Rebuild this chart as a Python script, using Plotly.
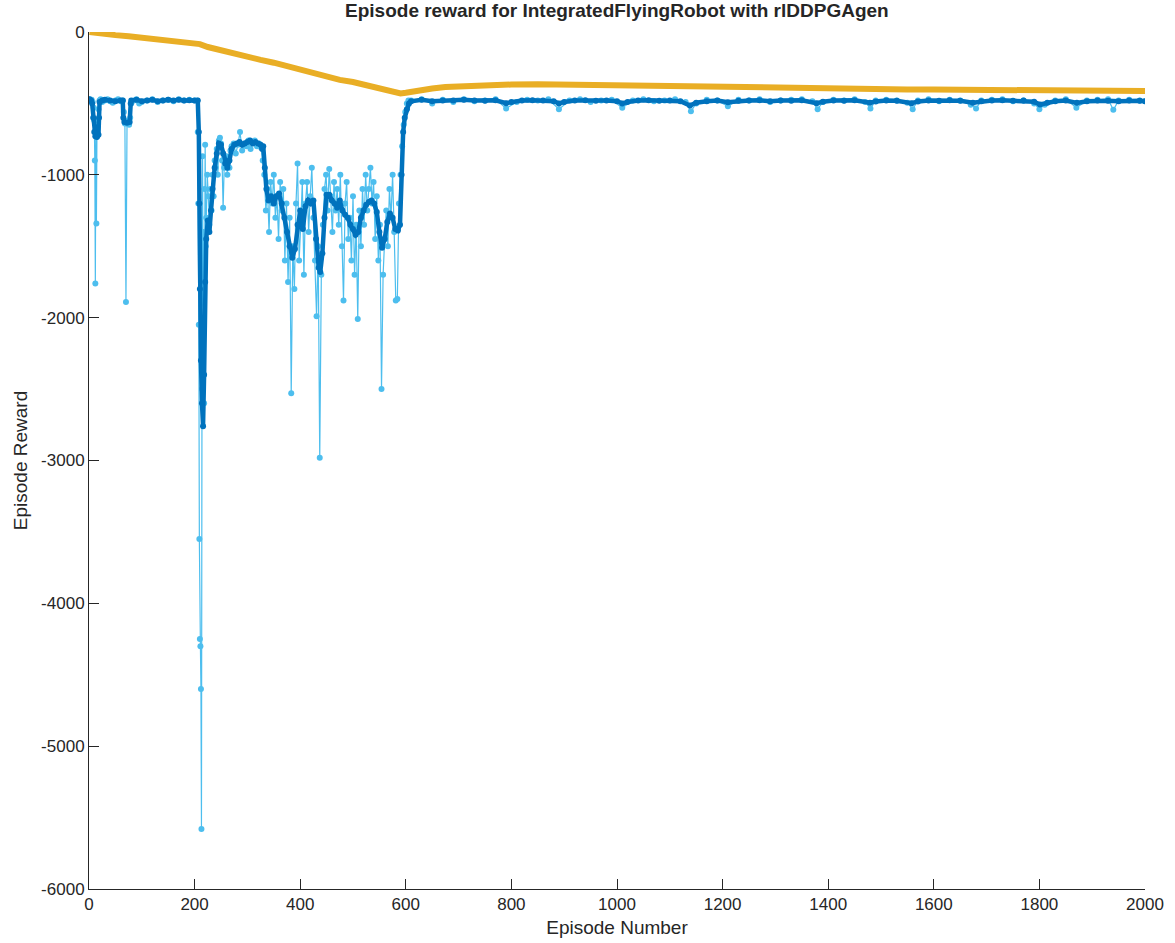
import plotly.graph_objects as go

# ---------------- data ----------------
reward_ep = [1, 3, 5, 7, 9, 10, 11, 12, 13, 14, 15, 16, 17, 18, 20, 22, 25, 30, 35, 40, 45, 50, 55, 60, 64, 66, 68, 70, 72, 74, 76, 78, 80, 85, 90, 95, 100, 110, 120, 130, 140, 150, 160, 170, 180, 190, 200, 205,
             206, 207, 208, 209, 210, 211, 212, 213, 214, 215, 216, 217, 218, 219, 220, 221, 222, 224, 226, 228, 230, 232, 234, 236, 238, 240, 242, 244, 246, 248, 250, 252, 254, 256, 258, 260, 262, 264, 266, 268, 270, 274, 278, 282, 286, 290, 294, 298, 302, 306, 310, 314, 318, 322, 326, 329,
             332, 335, 338, 341, 344, 347, 350, 353, 356, 359, 362, 365, 368, 371, 374, 377, 380, 383, 386, 389, 392, 395, 398, 401, 404, 407, 410, 413, 416, 419, 422, 425, 428, 431, 434, 437, 440, 443, 446, 449, 452, 455, 458, 461, 464, 467, 470, 473, 476, 479, 482, 485, 488, 491, 494, 497, 500, 503, 506, 509, 512, 515, 518, 521, 524, 527, 530, 533, 536, 539, 542, 545, 548, 551, 554, 557, 560, 563, 566, 569, 572, 575, 578, 581, 584, 587, 590, 593, 596, 599, 602, 605,
             610, 630, 650, 670, 690, 710, 730, 750, 770, 790, 810, 830, 850, 870, 890, 910, 930, 950, 970, 990, 1010, 1030, 1050, 1070, 1090, 1110, 1130, 1140, 1150, 1170, 1190, 1210, 1230, 1250, 1270, 1290, 1310, 1330, 1350, 1370, 1380, 1390, 1410, 1430, 1450, 1470, 1480, 1490, 1510, 1530, 1550, 1560, 1570, 1590, 1610, 1630, 1650, 1670, 1680, 1690, 1710, 1730, 1750, 1770, 1790, 1800, 1810, 1830, 1850, 1870, 1890, 1910, 1930, 1940, 1950, 1970, 1990, 2000]
reward_val = [-470, -480, -475, -490, -530, -620, -900, -1760, -700, -1340, -730, -660, -620, -540, -480, -470, -490, -480, -470, -485, -495, -480, -470, -485, -480, -560, -640, -1890, -640, -620, -650, -600, -500, -480, -470, -500, -490, -480, -470, -490, -480, -475, -485, -470, -480, -475, -480, -480,
              -700, -1200, -2050, -3550, -4250, -4300, -4600, -5580, -2500, -870, -1900, -1400, -2600, -1100, -790, -1500, -1300, -1000, -1150, -1350, -1100, -1250, -1000, -1150, -900, -950, -820, -1000, -760, -740, -780, -900, -1230, -950, -900, -870, -1000, -900, -950, -830, -800, -780, -850, -790, -700, -830, -780, -800, -760, -820, -770, -760, -800, -780, -810, -900,
              -1000, -1250, -1100, -1400, -1050, -1200, -1000, -1300, -1150, -1450, -1050, -1250, -1100, -1600, -1200, -1750, -1300, -2530, -1500, -1800, -1200, -920, -1600, -1350, -1050, -1700, -1200, -1050, -1400, -1150, -950, -1300, -1600, -1990, -1500, -2980, -1700, -1350, -1100, -1000, -1250, -960, -1150, -1400, -1050, -1250, -1100, -1350, -1000, -1500, -1880, -1200, -1050, -1450, -1300, -1600, -1150, -1700, -1350, -2010, -1250, -1500, -1100, -1350, -1000, -1250, -1100, -950, -1200, -1050, -1450, -1150, -1600, -1350, -2500, -1700, -1450, -1250, -1500, -1100, -1300, -1000, -1400, -1880, -1870, -1200, -1000, -800, -650, -560, -500, -480,
              -480, -470, -500, -475, -490, -470, -485, -480, -470, -535, -490, -475, -480, -470, -540, -480, -470, -490, -480, -475, -530, -480, -470, -485, -480, -470, -490, -555, -500, -475, -480, -520, -475, -480, -470, -490, -480, -475, -470, -485, -540, -490, -475, -480, -470, -490, -535, -480, -475, -480, -495, -540, -480, -470, -485, -475, -480, -510, -535, -480, -475, -470, -485, -480, -500, -540, -510, -480, -470, -530, -480, -475, -470, -545, -480, -475, -480, -485]

avg_ep = [1, 4, 6, 8, 10, 12, 15, 18, 19, 20, 25, 30, 40, 50, 60, 64, 65, 67, 72, 77, 79, 80, 90, 100, 110, 120, 130, 140, 150, 160, 170, 180, 190, 200, 206,
          208, 209, 210, 212, 214, 216, 218, 220, 222, 225, 228, 231, 234, 238, 242, 246, 250, 254, 258, 262, 266, 270, 275, 280, 285, 290, 295, 300, 305, 310, 315, 320, 325, 328,
          330, 333, 336, 340, 345, 350, 355, 360, 365, 370, 375, 380, 385, 390, 395, 400, 405, 410, 415, 420, 425, 430, 435, 438, 442, 446, 450, 455, 460, 465, 470, 475, 480, 485, 490, 495, 500, 505, 510, 515, 520, 525, 530, 535, 540, 545, 550, 555, 560, 565, 570, 575, 580, 585, 589, 592, 595, 598, 602, 606,
          610, 630, 650, 670, 690, 710, 730, 750, 770, 790, 800, 820, 840, 860, 880, 890, 900, 920, 940, 960, 980, 1000, 1010, 1020, 1040, 1060, 1080, 1100, 1120, 1138, 1150, 1170, 1190, 1210, 1230, 1250, 1270, 1290, 1310, 1330, 1350, 1378, 1390, 1410, 1430, 1450, 1479, 1490, 1510, 1530, 1558, 1570, 1590, 1610, 1630, 1650, 1674, 1690, 1710, 1730, 1750, 1770, 1790, 1801, 1815, 1830, 1850, 1871, 1890, 1910, 1930, 1950, 1970, 1990, 2000]
avg_val = [-470, -480, -500, -600, -700, -730, -735, -720, -600, -490, -480, -475, -480, -485, -480, -480, -600, -630, -635, -630, -500, -480, -475, -485, -480, -475, -485, -480, -475, -480, -475, -480, -478, -480, -480,
           -700, -1200, -1800, -2300, -2600, -2760, -2400, -1750, -1450, -1320, -1400, -1250, -1100, -950, -850, -780, -790, -850, -920, -950, -900, -820, -790, -780, -770, -790, -780, -770, -760, -780, -770, -780, -790, -820,
           -800, -950, -1100, -1180, -1150, -1200, -1150, -1130, -1200, -1300, -1400, -1500, -1580, -1520, -1350, -1250, -1380, -1220, -1180, -1200, -1180, -1450, -1650, -1680, -1550, -1300, -1140, -1140, -1180, -1200, -1230, -1180, -1250, -1280, -1300, -1350, -1380, -1420, -1400, -1300, -1250, -1210, -1190, -1180, -1200, -1260, -1400, -1510, -1450, -1330, -1270, -1300, -1380, -1390, -1350, -1000, -700, -600, -540, -500,
           -485, -475, -485, -480, -480, -475, -480, -482, -478, -498, -490, -480, -478, -480, -485, -500, -490, -480, -478, -482, -480, -485, -500, -490, -480, -478, -482, -480, -485, -515, -495, -485, -480, -492, -482, -480, -478, -485, -480, -482, -478, -498, -488, -480, -482, -478, -495, -486, -480, -482, -498, -486, -480, -482, -478, -482, -495, -485, -480, -478, -482, -480, -488, -508, -495, -485, -480, -496, -485, -480, -482, -485, -480, -482, -485]

q0_ep = [1, 10, 25, 50, 75, 100, 125, 150, 175, 200, 210, 225, 250, 275, 300, 325, 350, 375, 400, 425, 450, 475, 500, 525, 550, 575, 590, 600, 625, 650, 675, 700, 750, 800, 850, 900, 950, 1000, 1050, 1100, 1150, 1200, 1250, 1300, 1350, 1400, 1450, 1500, 1550, 1600, 1650, 1700, 1750, 1800, 1850, 1900, 1950, 2000]
q0_val = [0, -5, -12, -22, -30, -40, -48, -57, -65, -73, -85, -105, -130, -155, -175, -195, -215, -240, -265, -290, -312, -335, -350, -370, -395, -420, -430, -425, -405, -395, -385, -380, -375, -368, -365, -368, -370, -375, -380, -385, -388, -390, -392, -395, -397, -398, -400, -400, -402, -403, -403, -405, -405, -407, -410, -410, -412, -413]

x_ticks = [0, 200, 400, 600, 800, 1000, 1200, 1400, 1600, 1800, 2000]
y_ticks = [-6000, -5000, -4000, -3000, -2000, -1000, 0]

title_text = "Episode reward for IntegratedFlyingRobot with rlDDPGAgen"

# ---------------- figure ----------------
FONT = "Liberation Sans, Arial, Helvetica, sans-serif"
fig = go.Figure()

fig.add_trace(go.Scatter(
    x=reward_ep, y=reward_val, mode="lines+markers", name="Episode Reward",
    line=dict(color="#4DBEEE", width=1.2),
    marker=dict(color="#4DBEEE", size=6, symbol="circle"),
))
fig.add_trace(go.Scatter(
    x=avg_ep, y=avg_val, mode="lines+markers", name="Average Reward",
    line=dict(color="#0072BD", width=4.5),
    marker=dict(color="#0072BD", size=6, symbol="circle"),
))
fig.add_trace(go.Scatter(
    x=q0_ep, y=q0_val, mode="lines", name="Episode Q0",
    line=dict(color="#E9AE25", width=6),
))

fig.update_layout(
    width=1175, height=943,
    margin=dict(l=89, r=30, t=32, b=54),
    paper_bgcolor="white", plot_bgcolor="white",
    showlegend=False,
    font=dict(family=FONT, size=17, color="#262626"),
    title=dict(text="<b>" + title_text + "</b>", x=0.525, xanchor="center",
               y=0.989, yanchor="middle", font=dict(family=FONT, size=19, color="#262626")),
)
fig.update_xaxes(
    range=[0, 2000], tickvals=x_ticks, ticktext=[str(v) for v in x_ticks],
    showline=True, linecolor="#262626", linewidth=1, mirror=False,
    ticks="inside", ticklen=10, tickcolor="#262626", showgrid=False, zeroline=False,
    title=dict(text="Episode Number", font=dict(size=19), standoff=7),
    tickfont=dict(size=17), automargin=False,
)
fig.update_yaxes(
    range=[-6000, 0], tickvals=y_ticks, ticktext=[str(v) for v in y_ticks],
    showline=True, linecolor="#262626", linewidth=1, mirror=False,
    ticks="inside", ticklen=10, tickcolor="#262626", showgrid=False, zeroline=False,
    title=dict(text="Episode Reward", font=dict(size=19), standoff=8),
    tickfont=dict(size=17), automargin=False,
)

fig.write_html("out.html")
